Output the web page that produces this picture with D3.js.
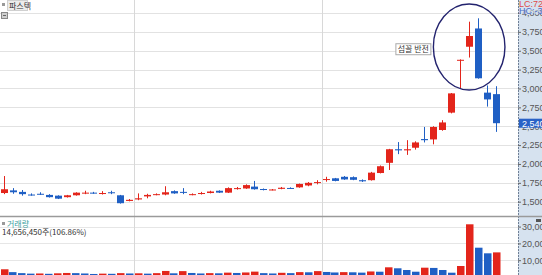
<!DOCTYPE html>
<html><head><meta charset="utf-8">
<script src="https://cdn.jsdelivr.net/npm/d3@7"></script>
<style>html,body{margin:0;padding:0;background:#fff;overflow:hidden}svg{display:block}</style>
</head><body>
<svg id="c" width="542" height="275"></svg>
<script>
// ---- data ----
const title = "파스텍";
const opens  = [1615,1650,1630,1595,1605,1590,1580,1560,1585,1610,1620,1605,1625,1585,1510,1530,1570,1590,1595,1640,1630,1590,1605,1615,1645,1620,1670,1675,1700,1668,1655,1670,1682,1690,1715,1750,1790,1810,1830,1825,1785,1785,1880,2015,2195,2180,2215,2330,2325,2450,2680,3370,3553,3795,2945,2925];
const highs  = [1840,1680,1655,1610,1625,1600,1585,1590,1625,1645,1630,1640,1645,1590,1535,1610,1605,1610,1705,1650,1680,1610,1630,1645,1650,1690,1695,1730,1775,1675,1668,1695,1690,1740,1760,1785,1830,1815,1840,1835,1795,1895,1980,2200,2290,2315,2300,2490,2500,2580,2940,3385,3885,3930,3040,3030];
const lows   = [1600,1605,1580,1580,1590,1555,1535,1555,1580,1600,1605,1595,1600,1475,1505,1520,1545,1585,1585,1605,1600,1585,1595,1610,1615,1615,1660,1670,1660,1650,1650,1665,1670,1685,1705,1730,1765,1770,1790,1785,1762,1780,1875,1920,2130,2120,2190,2285,2260,2440,2670,3000,3410,3130,2760,2425];
const closes = [1665,1625,1600,1585,1595,1560,1540,1585,1620,1620,1610,1615,1615,1480,1525,1545,1590,1600,1625,1610,1620,1600,1615,1635,1620,1680,1680,1720,1665,1660,1662,1685,1675,1735,1750,1760,1800,1775,1795,1790,1770,1885,1970,2195,2180,2195,2285,2315,2490,2550,2935,3380,3695,3135,2855,2540];
const volumes = [4600,2900,2300,2000,2100,1900,2200,2400,2300,2100,1800,2000,1900,2300,2100,2200,2000,2300,3600,2200,3500,2400,2100,2300,2200,2600,2400,2700,3200,2300,2100,2500,2300,2900,2800,3500,3000,2700,2900,2800,2600,3300,3150,5770,5180,4170,3150,5540,5400,4170,2560,6550,31370,17440,14100,14656];
const priceTicks = [1500,1750,2000,2250,2500,2750,3000,3250,3500,3750,4000];
const volTicks = [10000,20000,30000];
const monthStarts = [15,36];
const lastPrice = 2540;
const volLegend = "거래량";
const volText = "14,656,450주(106.86%)";
const lcText = "LC:72.9", hcText = "HC:-35,";
const noteText = "섬꼴 반전";

// ---- layout ----
const W = 542, H = 275, axisX = 518;
const UP = "#e3251b", DN = "#1f5fc4";
const svg = d3.select("#c");
const idx = d3.range(opens.length);
const x = d3.scalePoint().domain(idx).range([4, 496]);
const step = x.step();
const y = d3.scaleLinear().domain([1500, 4000]).range([201.7, 13]);
const yv = d3.scaleLinear().domain([0, 30000]).range([277, 226.6]);
const font = "'Liberation Sans', Arial, sans-serif";
const kfont = "'Noto Sans CJK KR', 'Noto Sans', sans-serif";

svg.append("rect").attr("width", W).attr("height", H).attr("fill", "#fff");

// grid
const g = svg.append("g");
g.selectAll("line.hg").data(priceTicks).join("line")
  .attr("x1", 0).attr("x2", axisX).attr("y1", d => Math.round(y(d)) + 0.5).attr("y2", d => Math.round(y(d)) + 0.5)
  .attr("stroke", "#e2e2e2");
g.selectAll("line.vg").data(volTicks).join("line")
  .attr("x1", 0).attr("x2", axisX).attr("y1", d => Math.round(yv(d)) + 0.5).attr("y2", d => Math.round(yv(d)) + 0.5)
  .attr("stroke", "#e6e6e6");
g.selectAll("line.mg").data(monthStarts).join("line")
  .attr("x1", d => Math.round(x(d) - step / 2) + 0.5).attr("x2", d => Math.round(x(d) - step / 2) + 0.5)
  .attr("y1", 0).attr("y2", H).attr("stroke", "#d8d8d8");

// axis strip
svg.append("rect").attr("x", axisX).attr("y", 0).attr("width", W - axisX).attr("height", H).attr("fill", "#d6e2ef");
svg.append("line").attr("x1", axisX + 0.5).attr("x2", axisX + 0.5).attr("y1", 0).attr("y2", H)
  .attr("stroke", "#6f7f95").attr("stroke-dasharray", "2,1");

// panel separator
svg.append("line").attr("x1", 0).attr("x2", W).attr("y1", 216.5).attr("y2", 216.5).attr("stroke", "#9a9a9a").attr("stroke-width", 1.5);

// price axis
const pa = svg.append("g").attr("transform", `translate(${axisX},0)`)
  .call(d3.axisRight(y).tickValues(priceTicks).tickSize(3).tickFormat(d3.format(",")));
pa.select(".domain").remove();
pa.selectAll("line").attr("stroke", "#666");
pa.selectAll("text").attr("x", 4).attr("fill", "#555").style("font", `9px ${font}`);
const va = svg.append("g").attr("transform", `translate(${axisX},0)`)
  .call(d3.axisRight(yv).tickValues(volTicks).tickSize(3).tickFormat(d3.format(",")));
va.select(".domain").remove();
va.selectAll("line").attr("stroke", "#666");
va.selectAll("text").attr("x", 4).attr("fill", "#555").style("font", `9px ${font}`);
svg.append("rect").attr("x", 536).attr("y", 219).attr("width", 5).attr("height", 3).attr("fill", "#555");

// volume bars
const vb = svg.append("g");
vb.selectAll("rect").data(idx).join("rect")
  .attr("x", i => Math.round(x(i) - 3.5)).attr("width", 7.5)
  .attr("y", i => yv(volumes[i])).attr("height", i => yv(0) - yv(volumes[i]))
  .attr("fill", i => (i === 0 || volumes[i] >= volumes[i - 1]) ? UP : DN);

// candles
const cg = svg.append("g");
const col = i => closes[i] >= opens[i] ? UP : DN;
cg.selectAll("line").data(idx).join("line")
  .attr("x1", i => Math.round(x(i)) + 0.5).attr("x2", i => Math.round(x(i)) + 0.5)
  .attr("y1", i => y(highs[i])).attr("y2", i => y(lows[i]))
  .attr("stroke", col);
cg.selectAll("rect").data(idx).join("rect")
  .attr("x", i => Math.round(x(i)) - 3).attr("width", 7)
  .attr("y", i => y(Math.max(opens[i], closes[i])))
  .attr("height", i => Math.max(1, Math.abs(y(opens[i]) - y(closes[i]))))
  .attr("fill", col);

// last price label
svg.append("rect").attr("x", axisX + 1).attr("y", y(lastPrice) - 4.5).attr("width", W - axisX - 1).attr("height", 9).attr("fill", "#2a62c6");
svg.append("text").attr("x", axisX + 4).attr("y", y(lastPrice) + 3.5).attr("fill", "#fff")
  .style("font", `9px ${font}`).text(d3.format(",")(lastPrice));

// LC / HC
svg.append("rect").attr("x", axisX + 1).attr("y", 0).attr("width", W - axisX - 1).attr("height", 14).attr("fill", "#d6e2ef").attr("opacity", 0.6);
svg.append("text").attr("x", axisX + 1).attr("y", 7).attr("fill", "#e04a4a").style("font", `9px ${font}`).text(lcText);
svg.append("text").attr("x", axisX + 1).attr("y", 14).attr("fill", "#4a6cc8").style("font", `9px ${font}`).text(hcText);

// title
svg.append("rect").attr("x", 2).attr("y", 3).attr("width", 3).attr("height", 3).attr("fill", "#999");
svg.append("rect").attr("x", 7.5).attr("y", 0.5).attr("width", 20).attr("height", 10).attr("fill", "#ececec").attr("stroke", "#d0d0d0");
svg.append("text").attr("x", 9).attr("y", 8.5).attr("fill", "#333").style("font", `8px ${kfont}`).text(title);
svg.append("rect").attr("x", 1.5).attr("y", 12.5).attr("width", 6).attr("height", 6).attr("fill", "#cfcfcf").attr("stroke", "#888");
svg.append("line").attr("x1", 3).attr("x2", 6).attr("y1", 15.5).attr("y2", 15.5).attr("stroke", "#666");

// volume legend
svg.append("rect").attr("x", 2).attr("y", 222).attr("width", 3).attr("height", 3).attr("fill", "#999");
svg.append("text").attr("x", 7).attr("y", 226.5).attr("fill", "#3aa0a0").style("font", `8px ${kfont}`).text(volLegend);
svg.append("text").attr("x", 2).attr("y", 234.5).attr("fill", "#333").style("font", `8px ${kfont}`).text(volText);

// annotation
const cx = x(52), cy = y(3550);
svg.append("ellipse").attr("cx", cx).attr("cy", cy).attr("rx", step * 4).attr("ry", y(2980) - y(3550))
  .attr("fill", "none").attr("stroke", "#23236e").attr("stroke-width", 1.4);
const bx = cx - step * 4 - 38, by = y(3520) - 6;
svg.append("rect").attr("x", bx + 0.5).attr("y", by + 0.5).attr("width", 35).attr("height", 11)
  .attr("fill", "#fff").attr("stroke", "#aaa");
svg.append("text").attr("x", bx + 18).attr("y", by + 9).attr("text-anchor", "middle")
  .attr("fill", "#333").style("font", `8px ${kfont}`).text(noteText);
</script>
</body></html>
